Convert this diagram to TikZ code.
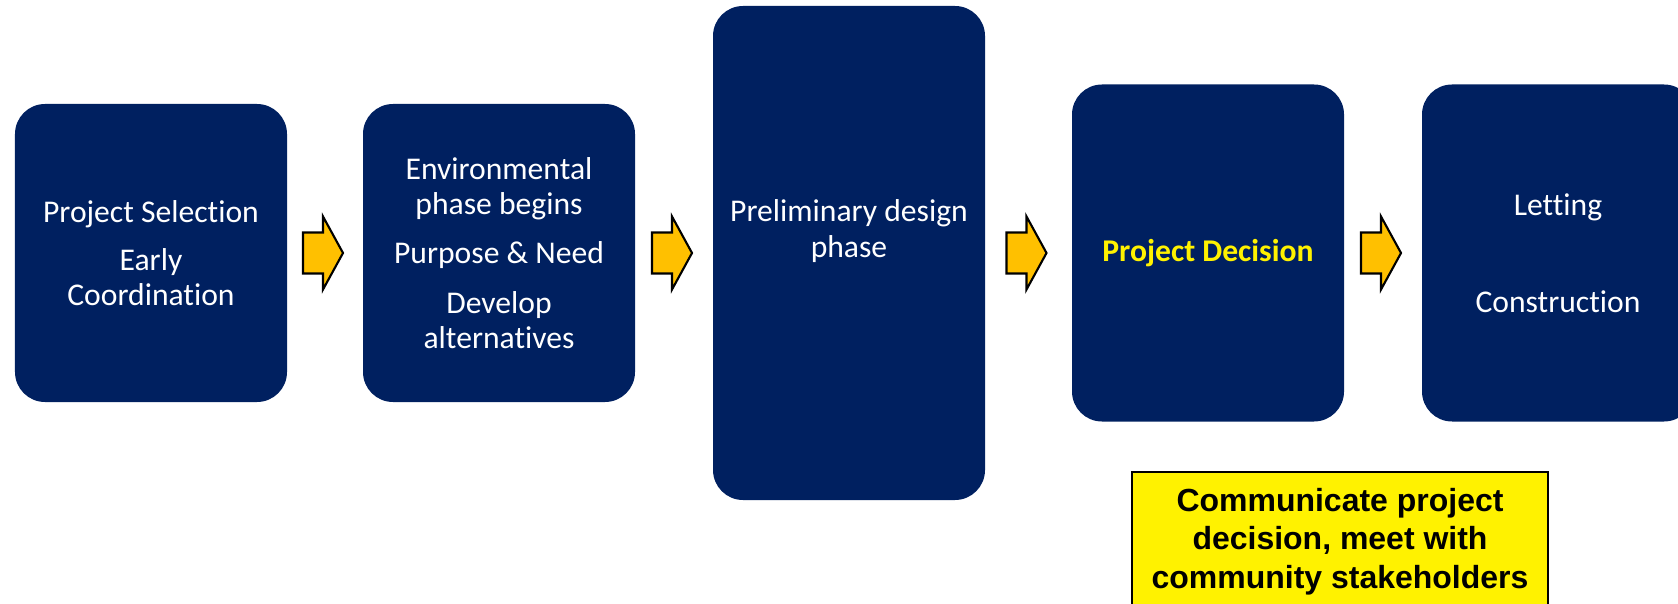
\documentclass[tikz,border=0pt]{standalone}
\usepackage{fontspec}
\setmainfont[Ligatures=NoCommon]{Carlito}
\newfontfamily\arialfont{Liberation Sans}
\usepackage{tikz}
\usetikzlibrary{positioning,calc}
\definecolor{navy}{HTML}{002060}
\definecolor{amber}{HTML}{FFC000}

\begin{document}
\begin{tikzpicture}[node distance={7.8mm},
  words/.style = {text=white, align=center, font=\fontsize{9}{10}\selectfont},
  stage/.style = {words, fill=navy, rounded corners=3mm, minimum width=27.2mm, inner sep=0pt, outer sep=0pt},
  arr/.style = {draw=black, fill=amber, line width=0.6pt},
  note/.style = {draw=black, fill=yellow, line width=0.6pt, minimum width=41.6mm, minimum height=14mm, inner sep=1pt, align=center, font=\arialfont\bfseries\fontsize{9.1}{11}\selectfont}]
\useasboundingbox (0,0) rectangle (16.78,-6.04);
\clip (0,0) rectangle (16.78,-6.04);
\node[stage, minimum height=29.8mm] (a) at (1.51,-2.53) {Project Selection\\[3.7pt]Early\\Coordination};
\node[stage, minimum height=29.8mm] (b) [right=7.6mm of a] {Environmental\\phase begins\\[4pt]Purpose \& Need\\[4pt]Develop\\alternatives};
\node[stage, minimum height=49.4mm] (c) [right=of b] {};
\node[words] at ([yshift=2.2mm]c.center) {Preliminary design\\phase};
\node[stage, minimum height=33.7mm, text=yellow, font=\bfseries\fontsize{9}{10}\selectfont] (d) [right=8.7mm of c] {Project Decision};
\node[stage, minimum height=33.7mm] (e) [right=of d] {Letting\\[17.6pt]Construction};
\node[note] (f) [below=4.9mm of d, xshift=13.2mm] {Communicate project\\decision, meet with\\community stakeholders};
% block arrows between the stages
\foreach \s/\t in {a/b, b/c, c/d, d/e}
  \draw[arr] ($(\s.east)!0.5!(\t.west)$) ++(-2.2mm,2.05mm) -- ++(2mm,0) -- ++(0,1.6mm) -- ++(2mm,-3.65mm) -- ++(-2mm,-3.65mm) -- ++(0,1.6mm) -- ++(-2mm,0) -- cycle;
\end{tikzpicture}
\end{document}
